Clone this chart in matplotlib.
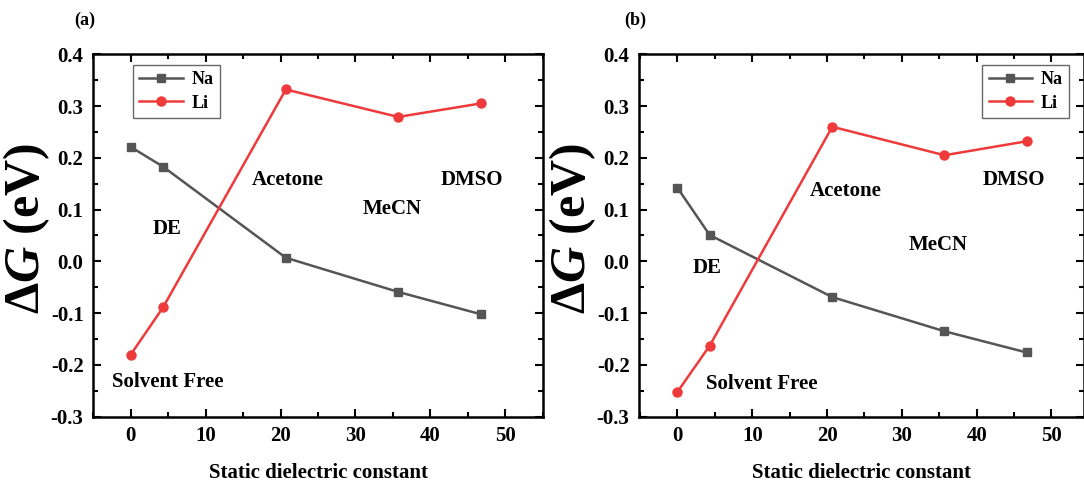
import numpy as np
import matplotlib
matplotlib.use("Agg")
import matplotlib.pyplot as plt
from matplotlib.ticker import MultipleLocator

plt.rcParams['font.family'] = ['Liberation Serif', 'DejaVu Serif']
plt.rcParams['font.weight'] = 'bold'
plt.rcParams['mathtext.fontset'] = 'custom'
plt.rcParams['mathtext.it'] = 'Liberation Serif:bold:italic'
plt.rcParams['mathtext.rm'] = 'Liberation Serif:bold'

# static dielectric constants (solvent free, DE, acetone, MeCN, DMSO)
eps = [0.0, 4.3, 20.7, 35.7, 46.7]

# panel (a)
na_a = [0.221, 0.183, 0.007, -0.059, -0.102]
li_a = [-0.180, -0.089, 0.332, 0.279, 0.305]

# panel (b)
na_b = [0.142, 0.051, -0.069, -0.135, -0.176]
li_b = [-0.252, -0.163, 0.260, 0.205, 0.232]

solvents = ['Solvent Free', 'DE', 'Acetone', 'MeCN', 'DMSO']
lab_pos_a = [(4.9, -0.233), (4.9, 0.063), (20.9, 0.157), (34.9, 0.101), (45.6, 0.157)]
lab_pos_b = [(11.3, -0.237), (4.0, -0.013), (22.5, 0.136), (34.8, 0.032), (45.0, 0.157)]

na_color = '#555555'
li_color = '#ee3a3a'

fig = plt.figure(figsize=(10.84, 4.86), dpi=100)
ax1 = fig.add_axes([0.0861, 0.1426, 0.4146, 0.7457])
ax2 = fig.add_axes([0.5898, 0.1426, 0.4105, 0.7457])

panels = [
    (ax1, na_a, li_a, lab_pos_a, '(a)', (-5, 55), 'upper left', (0.088, 0.97), -0.018),
    (ax2, na_b, li_b, lab_pos_b, '(b)', (-5.1, 54.4), 'upper right', (0.966, 0.97), -0.01),
]

for ax, na, li, pos, tag, xl, loc, anchor, tagx in panels:
    ax.plot(eps, na, color=na_color, marker='s', markersize=6, linewidth=1.8, label='Na')
    ax.plot(eps, li, color=li_color, marker='o', markersize=6.5, linewidth=1.8, label='Li')

    for name, (x, y) in zip(solvents, pos):
        ax.text(x, y, name, ha='center', va='center', fontsize=15, fontweight='bold')

    ax.set_xlim(*xl)
    ax.set_ylim(-0.3, 0.4)
    ax.xaxis.set_major_locator(MultipleLocator(10))
    ax.xaxis.set_minor_locator(MultipleLocator(5))
    ax.yaxis.set_major_locator(MultipleLocator(0.1))
    ax.yaxis.set_minor_locator(MultipleLocator(0.05))
    ax.yaxis.set_major_formatter(plt.FuncFormatter(lambda v, p: f'{v:.1f}'))
    ax.tick_params(which='both', direction='in', top=True, right=True, width=1.5)
    ax.tick_params(which='major', length=6, labelsize=15, pad=7)
    ax.tick_params(which='minor', length=3.5)
    for s in ax.spines.values():
        s.set_linewidth(1.8)

    ax.set_xlabel('Static dielectric constant', fontsize=15, fontweight='bold', labelpad=12)
    ax.set_ylabel('Δ$G$ (eV)', fontsize=36, fontweight='bold')
    ax.yaxis.set_label_coords(-0.093, 0.52)

    leg = ax.legend(loc=loc, bbox_to_anchor=anchor, fontsize=13, frameon=True,
                    fancybox=False, edgecolor='#444444', handlelength=2.4,
                    borderpad=0.35, labelspacing=0.35, handletextpad=0.5,
                    borderaxespad=0)
    leg.get_frame().set_linewidth(1.0)

    ax.text(tagx, 1.095, tag, transform=ax.transAxes, fontsize=13, fontweight='bold',
            ha='center', va='center')

fig.savefig('out.png', dpi=100)
